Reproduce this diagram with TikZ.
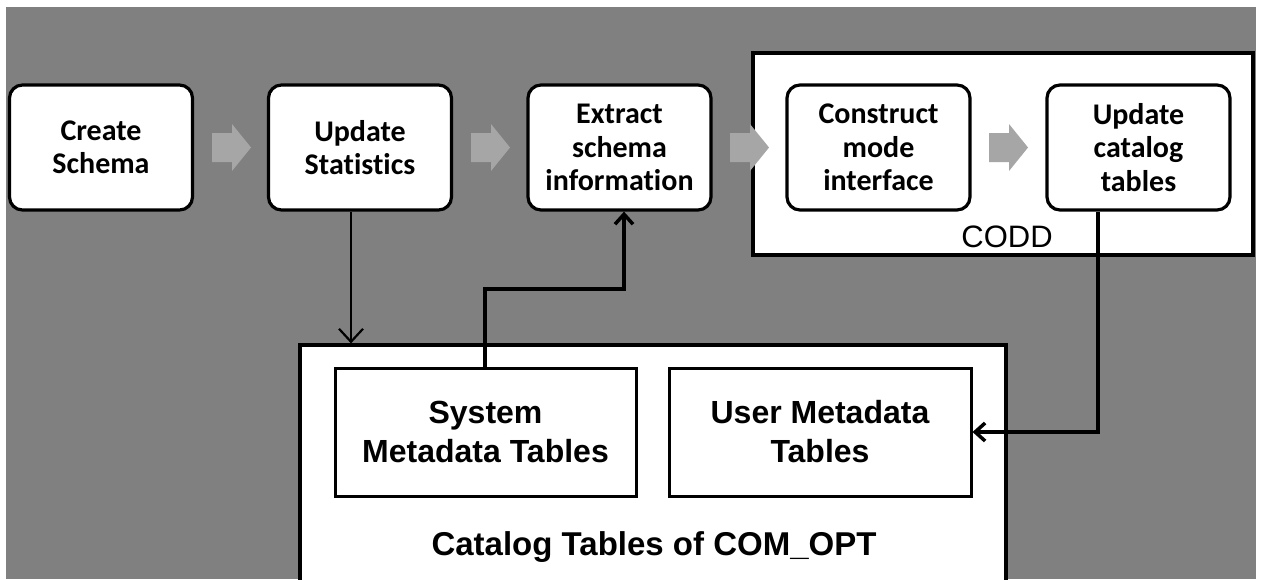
\documentclass[tikz,border=0pt]{standalone}
\usepackage{fontspec}
\newfontfamily\stepfont[Ligatures=NoCommon]{Carlito}
\newfontfamily\tablefont{Liberation Sans}
\usetikzlibrary{arrows.meta}
\definecolor{canvas}{RGB}{128,128,128}
\definecolor{flowgray}{RGB}{166,166,166}
\begin{document}
\begin{tikzpicture}[x=1pt,y=-1pt,
  stepbox/.style={draw=black, line width=3.2pt, fill=white, rounded corners=13pt,
    minimum width=183pt, minimum height=125pt, inner sep=0pt, align=center,
    font=\stepfont\bfseries\fontsize{30}{33.5}\selectfont},
  groupbox/.style={draw=black, line width=3.2pt, fill=white, inner sep=0pt},
  tablebox/.style={draw=black, line width=3pt, fill=white, inner sep=0pt,
    minimum height=128pt, align=center,
    font=\tablefont\bfseries\fontsize{32}{39}\selectfont},
  thinlink/.style={draw=black, line width=2.2pt,
    -{Straight Barb[length=13pt,width=24pt]}},
  thicklink/.style={draw=black, line width=3.5pt,
    -{Straight Barb[length=10pt,width=18pt]}},
  flowarrow/.pic={\fill[flowgray] (0,-14.5) -- (20,-14.5) -- (20,-23.5) -- (39,0)
    -- (20,23.5) -- (20,14.5) -- (0,14.5) -- cycle;}
]
\useasboundingbox (0,0) rectangle (1263,579);
\clip (0,0) rectangle (1263,579);
\fill[canvas] (6,7) rectangle (1256,579);

% CODD group and the pipeline steps
\node[groupbox, minimum width=500pt, minimum height=202pt] (codd) at (1003,154) {};
\node[anchor=base, font=\tablefont\fontsize{31}{37}\selectfont] (coddlabel) at (1007,247) {CODD};

\node[stepbox] (cs)  at (101,147.5)    {Create\\Schema};
\node[stepbox] (us)  at (360,147.5)    {Update\\Statistics};
\node[stepbox] (ext) at (619.5,147.5)  {Extract\\schema\\information};
\node[stepbox] (cmi) at (878.5,147.5)  {Construct\\mode\\interface};
\node[stepbox] (uct) at (1138.5,147.5) {Update\\catalog\\tables};

\pic at (212,147.5) {flowarrow};
\pic at (471,147.5) {flowarrow};
\pic at (730,147.5) {flowarrow};
\pic at (989,147.5) {flowarrow};

% catalog tables of COM_OPT
\node[groupbox, minimum width=706pt, minimum height=260pt] (cat) at (653,475) {};
\node[tablebox, minimum width=301pt] (sys) at (485.5,432) {System\\Metadata Tables};
\node[tablebox, minimum width=302pt] (usr) at (820,432) {User Metadata\\Tables};
\node[anchor=base, font=\tablefont\bfseries\fontsize{33}{39}\selectfont] (catlabel)
  at (654,555) {Catalog Tables of COM\_OPT};

% connectors
\coordinate (usx) at (351,0);
\draw[thinlink] (usx |- us.south) -- (usx |- cat.north);

\coordinate (sx) at (485,0);
\coordinate (bend) at (624,289);
\draw[thicklink] (sys.north -| sx) -- (sx |- bend) -- (bend) -- (bend |- ext.south);

\coordinate (ucx) at (1098,432);
\draw[thicklink] (uct.south -| ucx) -- (ucx) -- (ucx -| usr.east);
\end{tikzpicture}
\end{document}
